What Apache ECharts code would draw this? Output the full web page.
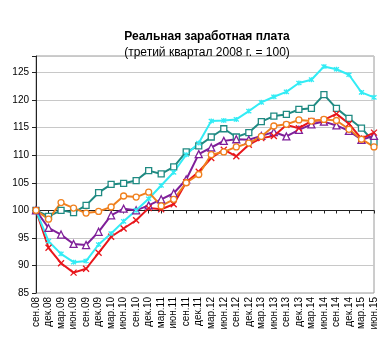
<!DOCTYPE html>
<html><head><meta charset="utf-8">
<script src="https://cdn.jsdelivr.net/npm/echarts@6/dist/echarts.min.js"></script>
<style>html,body{margin:0;padding:0;background:#fff}#c{width:390px;height:347px}</style>
</head><body><div id="c"></div>
<script>
const categories = ['сен.08','дек.08','мар.09','июн.09','сен.09','дек.09','мар.10','июн.10','сен.10','дек.10','мар.11','июн.11','сен.11','дек.11','мар.12','июн.12','сен.12','дек.12','мар.13','июн.13','сен.13','дек.13','мар.14','июн.14','сен.14','дек.14','мар.15','июн.15'];
const tealValues   = [100, 98.9, 100.0, 99.6, 100.9, 103.2, 104.7, 104.9, 105.4, 107.2, 106.6, 107.9, 110.6, 111.7, 113.3, 114.8, 113.3, 114.1, 116.1, 117.1, 117.4, 118.3, 118.5, 121.0, 118.5, 116.7, 114.9, 112.4];
const purpleValues = [100, 96.8, 95.6, 93.9, 93.7, 96.1, 99.1, 100.3, 100.0, 100.9, 102.0, 103.1, 105.6, 110.2, 111.4, 112.6, 112.9, 112.8, 113.5, 114.2, 113.4, 114.6, 115.6, 116.1, 115.4, 114.4, 112.8, 113.5];
const redValues    = [100, 93.2, 90.4, 88.7, 89.4, 92.3, 95.2, 96.7, 98.2, 100.4, 100.2, 101.1, 105.1, 107.0, 109.5, 111.0, 109.8, 111.9, 113.1, 113.5, 115.5, 114.9, 116.2, 116.4, 117.5, 115.7, 113.0, 114.1];
const cyanValues   = [100, 94.4, 92.1, 90.6, 90.8, 93.8, 95.8, 98.0, 100.0, 102.1, 104.5, 106.9, 110.1, 112.2, 116.2, 116.3, 116.5, 118.0, 119.6, 120.6, 121.5, 123.1, 123.7, 126.1, 125.6, 124.6, 121.4, 120.5];
const orangeValues = [100, 98.4, 101.4, 100.4, 99.5, 99.8, 100.6, 102.6, 102.4, 103.3, 100.8, 102.0, 105.0, 106.5, 110.1, 110.6, 111.5, 112.2, 113.4, 115.3, 115.6, 116.4, 116.2, 116.5, 116.3, 114.7, 112.9, 111.5];
const yTicks = [85, 90, 95, 100, 105, 110, 115, 120, 125];

const FONT = 'Liberation Sans, Arial, sans-serif';
function mk(name, data, color, symbol, size, fillWhite) {
  return {
    name, type: 'line', data, symbol, symbolSize: size, showSymbol: true,
    lineStyle: { color, width: 2 },
    itemStyle: { color: fillWhite ? '#fff' : color, borderColor: color, borderWidth: 1.3 },
    emphasis: { disabled: true }, animation: false
  };
}
const chart = echarts.init(document.getElementById('c'), null, { renderer: 'canvas' });
chart.setOption({
  animation: false,
  title: [
    { text: 'Реальная заработная плата', left: 202, top: 26, textAlign: 'center',
      textStyle: { fontFamily: FONT, fontSize: 12, fontWeight: 'bold', color: '#000' } },
    { text: '(третий квартал 2008 г. = 100)', left: 202, top: 42, textAlign: 'center',
      textStyle: { fontFamily: FONT, fontSize: 12, fontWeight: 'normal', color: '#000' } }
  ],
  grid: { left: 36, right: 16, top: 56, bottom: 54, show: true, borderColor: '#9a9a9a', borderWidth: 1 },
  xAxis: [
    { type: 'category', data: categories, boundaryGap: false, position: 'bottom',
      axisLine: { show: false }, axisTick: { show: false },
      axisLabel: { rotate: 90, fontFamily: FONT, fontSize: 10, color: '#000', margin: 4, interval: 0 } },
    { type: 'category', data: categories, boundaryGap: false, position: 'bottom', offset: -82.5,
      axisLine: { show: true, lineStyle: { color: '#222', width: 1 } },
      axisTick: { show: true, length: 3, inside: false, interval: 0, lineStyle: { color: '#222' } },
      axisLabel: { show: false } }
  ],
  yAxis: {
    type: 'value', min: 85, max: 128, interval: 5,
    axisLine: { show: true, lineStyle: { color: '#222' } },
    axisTick: { show: true, length: 4, lineStyle: { color: '#222' } },
    axisLabel: { fontFamily: FONT, fontSize: 10, color: '#000', margin: 7,
      formatter: v => yTicks.includes(v) ? String(v) : '' },
    splitLine: { lineStyle: { color: '#c8c8c8', width: 1 } }
  },
  series: [
    mk('teal', tealValues, '#1f8a82', 'rect', 6, true),
    mk('purple', purpleValues, '#7f1f99', 'triangle', 7, true),
    mk('red', redValues, '#e8161b', 'path://M0,0L10,10M10,0L0,10', 6, false),
    mk('cyan', cyanValues, '#33ecf5', 'path://M0,0L10,10M10,0L0,10M5,-1L5,11', 5, false),
    mk('orange', orangeValues, '#f0801e', 'circle', 6, true)
  ]
});
</script></body></html>
